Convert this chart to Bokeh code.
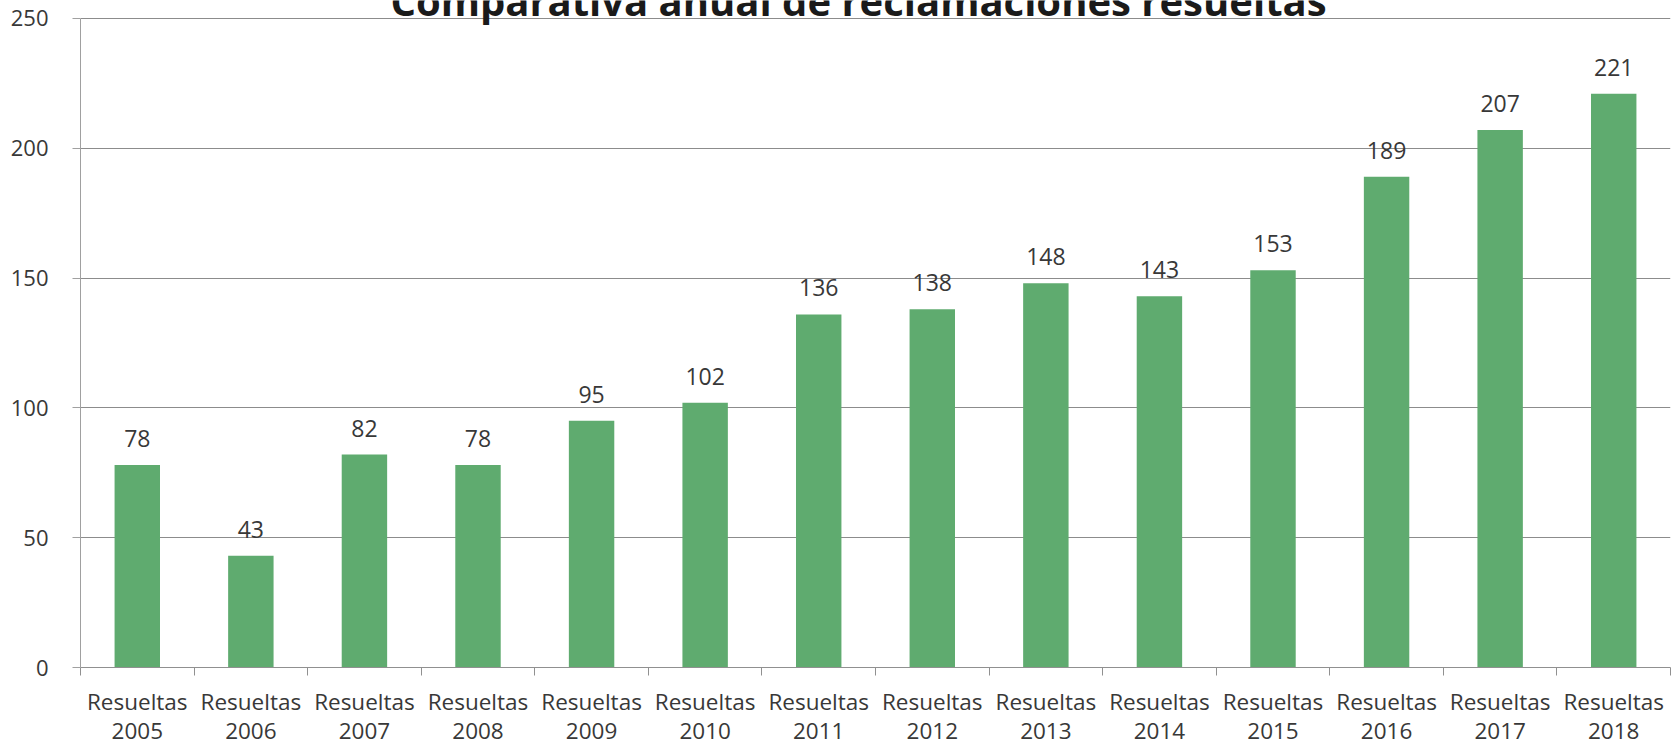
from bokeh.plotting import figure
from bokeh.models import ColumnDataSource, Range1d, FixedTicker, LabelSet, Label
from bokeh.core.properties import value
from bokeh.embed import file_html
from bokeh.resources import INLINE

title_text = "Comparativa anual de reclamaciones resueltas"
prefix = "Resueltas"
years = ["2005", "2006", "2007", "2008", "2009", "2010", "2011",
         "2012", "2013", "2014", "2015", "2016", "2017", "2018"]
values = [78, 43, 82, 78, 95, 102, 136, 138, 148, 143, 153, 189, 207, 221]
y_ticks = [0, 50, 100, 150, 200, 250]

n = len(years)
centers = [i + 0.5 for i in range(n)]
edges = list(range(n + 1))

src = ColumnDataSource(dict(x=centers, top=values, lab=[str(v) for v in values]))

# frame reaches the top of the canvas so the (cut-off) title can show above the 250 line
p = figure(width=1672, height=748, output_backend="svg", toolbar_location=None,
           x_range=Range1d(0, n), y_range=Range1d(0, 250 + 18 / 2.6),
           min_border_left=80, min_border_right=2, min_border_top=0, min_border_bottom=80)
p.outline_line_color = None
p.background_fill_color = "white"

p.vbar(x="x", top="top", width=0.4, bottom=0, source=src,
       fill_color="#5fab6f", line_color=None)

labels = LabelSet(x="x", y="top", text="lab", source=src, text_align="center",
                  text_baseline="alphabetic", y_offset=18, text_font=value("Open Sans"),
                  text_font_size="23px", text_color="#383838")
p.add_layout(labels)

# axes
xa = p.xaxis[0]
xa.ticker = FixedTicker(ticks=centers, minor_ticks=edges)
xa.major_label_overrides = {c: f"{prefix}\n{y}" for c, y in zip(centers, years)}
xa.major_tick_line_color = None
xa.minor_tick_in = 0
xa.minor_tick_out = 8
xa.minor_tick_line_color = "#909090"
xa.axis_line_color = "#909090"
xa.major_label_text_font = "Open Sans"
xa.major_label_text_font_size = "22.5px"
xa.major_label_text_color = "#383838"
xa.major_label_text_line_height = 0.95
xa.major_label_standoff = 10

ya = p.yaxis[0]
ya.ticker = FixedTicker(ticks=y_ticks)
ya.bounds = (0, 250)
ya.minor_tick_line_color = None
ya.major_tick_in = 0
ya.major_tick_out = 8
ya.major_tick_line_color = "#a0a0a0"
ya.axis_line_color = "#a0a0a0"
ya.major_label_text_font = "Open Sans"
ya.major_label_text_font_size = "22px"
ya.major_label_text_color = "#383838"
ya.major_label_standoff = 24

p.xgrid.grid_line_color = None
p.ygrid.ticker = FixedTicker(ticks=y_ticks)
p.ygrid.grid_line_color = "#8c8c8c"
p.ygrid.grid_line_width = 1

title = Label(x=6.85, y=256.9, text=title_text, text_align="center",
              text_baseline="alphabetic", text_font="Open Sans",
              text_font_style="bold", text_font_size="40px", text_color="#1a1a1a")
p.add_layout(title)

open("out.html", "w").write(file_html(p, INLINE))
